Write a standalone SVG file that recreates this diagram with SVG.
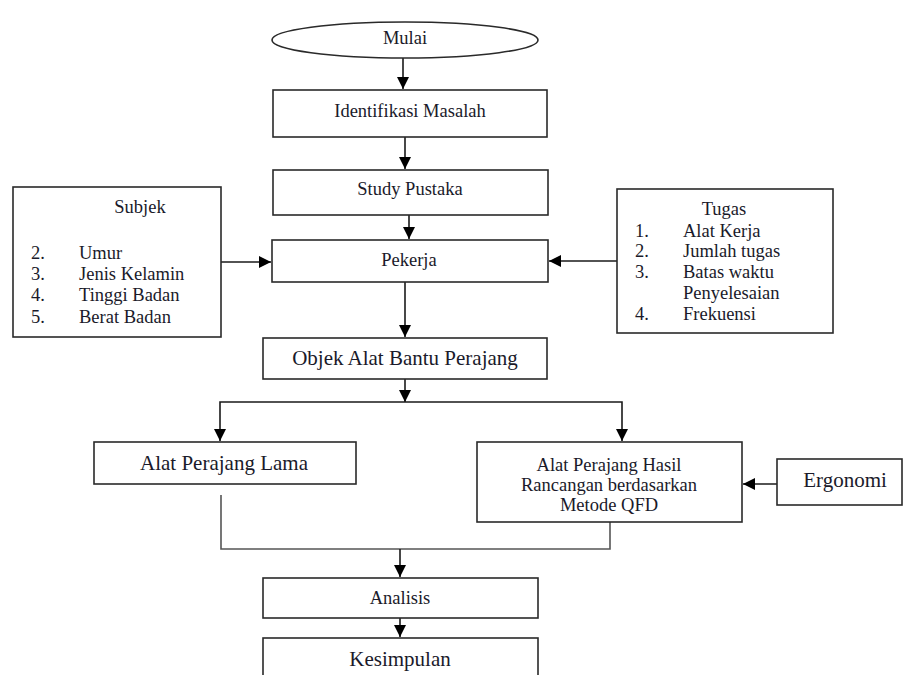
<svg xmlns="http://www.w3.org/2000/svg" width="904" height="675" viewBox="0 0 904 675">
<style>
.box{fill:#fff;stroke:#2a2a2a;stroke-width:1.6}
text{font-family:'Liberation Serif','Times New Roman',Times,serif;fill:#1a1a2a;font-size:18.5px}
.c{text-anchor:middle}
.big{font-size:21px}
.ln{fill:none;stroke:#1a1a1a;stroke-width:1.6}
.gl{fill:none;stroke:#555;stroke-width:1.6}
</style>
<defs>
<marker id="ah" markerUnits="userSpaceOnUse" markerWidth="12" markerHeight="14" viewBox="0 0 12 14" refX="12" refY="7" orient="auto">
<path d="M0,1 L12,7 L0,13 Z" fill="#000"/>
</marker>
</defs>
<rect width="904" height="675" fill="#fff"/>

<g id="connectors">
<line class="ln" x1="403" y1="58" x2="403" y2="89" marker-end="url(#ah)"/>
<line class="ln" x1="405" y1="137" x2="405" y2="169" marker-end="url(#ah)"/>
<line class="ln" x1="409" y1="215" x2="409" y2="239" marker-end="url(#ah)"/>
<line class="ln" x1="221" y1="262" x2="271" y2="262" marker-end="url(#ah)"/>
<line class="ln" x1="617" y1="261" x2="549" y2="261" marker-end="url(#ah)"/>
<line class="ln" x1="405" y1="282" x2="405" y2="337" marker-end="url(#ah)"/>
<line class="ln" x1="405" y1="379" x2="405" y2="402" marker-end="url(#ah)"/>
<polyline class="ln" points="405,402 220,402 220,441" marker-end="url(#ah)"/>
<polyline class="ln" points="405,402 622,402 622,441" marker-end="url(#ah)"/>
<line class="ln" x1="777" y1="484" x2="743" y2="484" marker-end="url(#ah)"/>
<polyline class="gl" points="221,495 221,549 610,549 610,522"/>
<line class="ln" x1="400" y1="549" x2="400" y2="577" marker-end="url(#ah)"/>
<line class="ln" x1="400" y1="618" x2="400" y2="637" marker-end="url(#ah)"/>
</g>

<g id="mulai">
<ellipse class="box" cx="405" cy="40" rx="133" ry="18"/>
<text class="c" x="405" y="44" font-family="Liberation Serif, serif">Mulai</text>
</g>

<g id="identifikasi">
<rect class="box" x="273" y="90" width="274" height="47"/>
<text class="c" x="410" y="117">Identifikasi Masalah</text>
</g>

<g id="study">
<rect class="box" x="273" y="170" width="275" height="45"/>
<text class="c" x="410" y="195">Study Pustaka</text>
</g>

<g id="pekerja">
<rect class="box" x="272" y="240" width="276" height="42"/>
<text class="c" x="409" y="266">Pekerja</text>
</g>

<g id="subjek">
<rect class="box" x="13" y="187" width="208" height="150"/>
<text class="c" x="140" y="213">Subjek</text>
<text x="31" y="259">2.</text><text x="79" y="259">Umur</text>
<text x="31" y="280">3.</text><text x="79" y="280">Jenis Kelamin</text>
<text x="31" y="301">4.</text><text x="79" y="301">Tinggi  Badan</text>
<text x="31" y="323">5.</text><text x="79" y="323">Berat Badan</text>
</g>

<g id="tugas">
<rect class="box" x="617" y="189" width="216" height="144"/>
<text class="c" x="724" y="215">Tugas</text>
<text x="635" y="237">1.</text><text x="683" y="237">Alat Kerja</text>
<text x="635" y="257">2.</text><text x="683" y="257">Jumlah tugas</text>
<text x="635" y="278">3.</text><text x="683" y="278">Batas waktu</text>
<text x="683" y="299">Penyelesaian</text>
<text x="635" y="320">4.</text><text x="683" y="320">Frekuensi</text>
</g>

<g id="objek">
<rect class="box" x="263" y="338" width="284" height="41"/>
<text class="c big" x="405" y="365">Objek Alat Bantu Perajang</text>
</g>

<g id="lama">
<rect class="box" x="94" y="442" width="262" height="42"/>
<text class="c big" x="224" y="470">Alat Perajang Lama</text>
</g>

<g id="hasil">
<rect class="box" x="477" y="442" width="265" height="80"/>
<text class="c" x="609" y="471">Alat Perajang Hasil</text>
<text class="c" x="609" y="491">Rancangan berdasarkan</text>
<text class="c" x="609" y="511">Metode QFD</text>
</g>

<g id="ergonomi">
<rect class="box" x="777" y="459" width="125" height="46"/>
<text class="c big" x="845" y="487">Ergonomi</text>
</g>

<g id="analisis">
<rect class="box" x="263" y="578" width="275" height="40"/>
<text class="c" x="400" y="604">Analisis</text>
</g>

<g id="kesimpulan">
<rect class="box" x="263" y="638" width="275" height="50"/>
<text class="c big" x="400" y="666">Kesimpulan</text>
</g>
</svg>
